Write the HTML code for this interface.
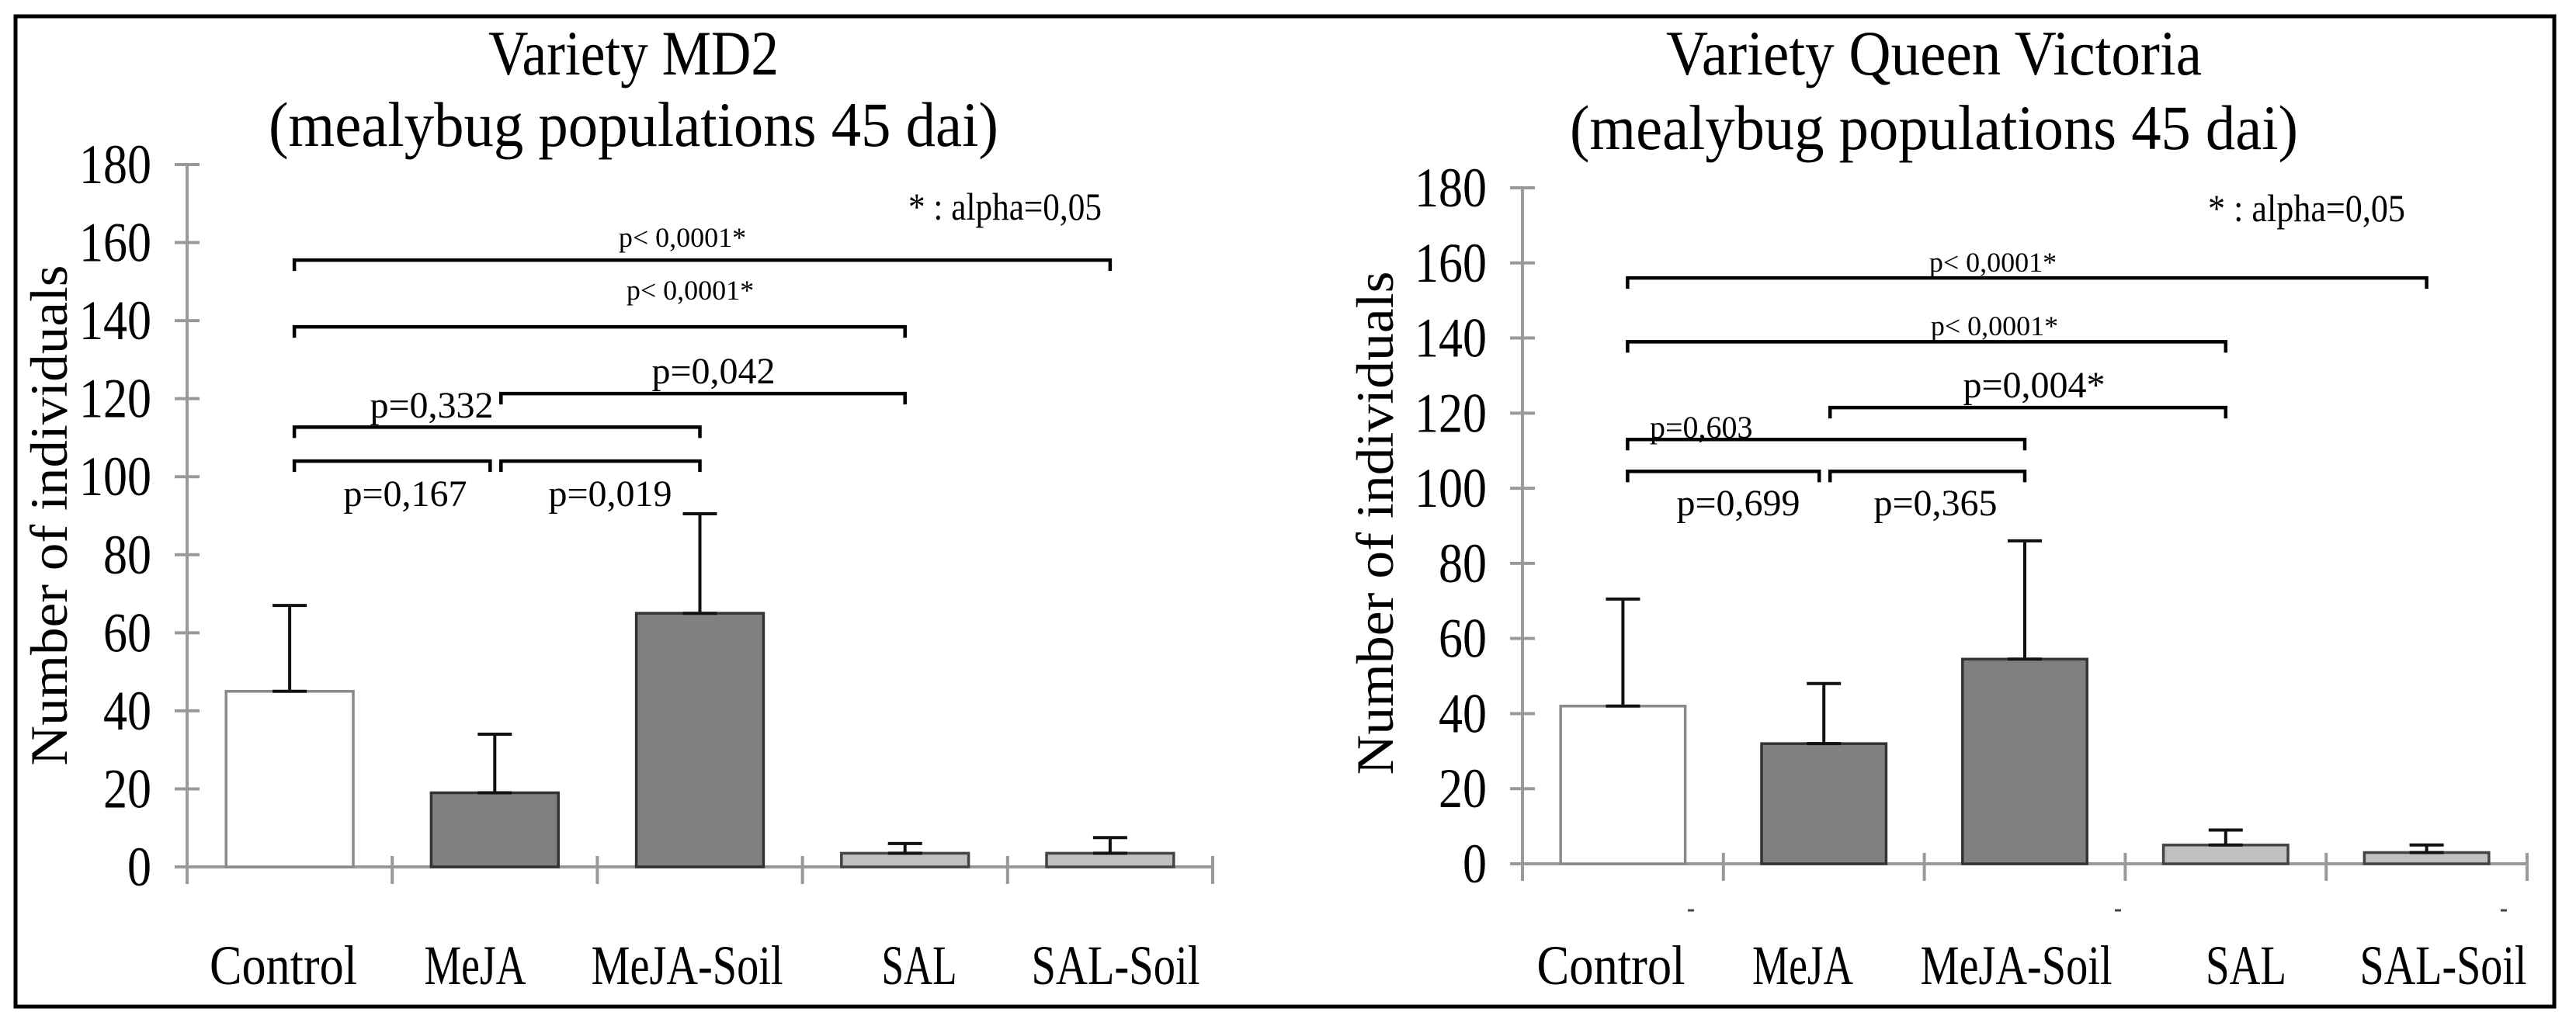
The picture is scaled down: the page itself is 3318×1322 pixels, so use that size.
<!DOCTYPE html>
<html><head><meta charset="utf-8"><style>
html,body{margin:0;padding:0;background:#fff;}
svg{display:block;font-family:"Liberation Serif",serif;}
</style></head><body>
<svg id="fig" width="3318" height="1322" viewBox="0 0 3318 1322" xmlns="http://www.w3.org/2000/svg">
<rect x="20" y="21" width="3270" height="1276" fill="#fff" stroke="#000" stroke-width="5"/>
</svg>
<script>
const categories = ["Control","MeJA","MeJA-Soil","SAL","SAL-Soil"];
const yTicks = [0,20,40,60,80,100,120,140,160,180];
const md2Means = [45,19,65,3.5,3.5];
const md2ErrTop = [67,34,90.5,6,7.5];
const qvMeans = [42,32,54.5,5,3];
const qvErrTop = [70.5,48,86,9,5];
const md2BracketLevels = [155.5,138.4,121.3,112.7,104,104];
const md2BracketFrom = [0,0,1,0,0,1];
const md2BracketTo = [4,3,3,2,1,2];
const md2BracketLabels = ["p< 0,0001*","p< 0,0001*","p=0,042","p=0,332","p=0,167","p=0,019"];
const qvBracketLevels = [156,139,121.5,113,104.5,104.5];
const qvBracketFrom = [0,0,1,0,0,1];
const qvBracketTo = [4,3,3,2,1,2];
const qvBracketLabels = ["p< 0,0001*","p< 0,0001*","p=0,004*","p=0,603","p=0,699","p=0,365"];
const barFills = ["#ffffff","#808080","#808080","#c0c0c0","#c0c0c0"];
const barStrokes = ["#8a8a8a","#333333","#333333","#444444","#444444"];

const NS="http://www.w3.org/2000/svg";
const svg=document.getElementById('fig');
function mk(tag,attrs,parent,text){const e=document.createElementNS(NS,tag);for(const k in attrs)e.setAttribute(k,attrs[k]);if(text!==undefined)e.textContent=text;(parent||svg).appendChild(e);return e;}

function drawChart(g,c,means,errs,lv,from,to,labels,labelPos){
  const yS=v=>c.y0-(v/180)*(c.y0-c.y180);
  const cw=(c.x1-c.x0)/categories.length;
  const cx=i=>c.x0+cw*(i+0.5);
  let t=mk('text',{x:c.tx,y:c.t1y,'text-anchor':'middle','font-size':82,textLength:c.t1w,lengthAdjust:'spacingAndGlyphs'},g,c.title1);
  
  
  t=mk('text',{x:c.tx,y:c.t2y,'text-anchor':'middle','font-size':82,textLength:c.t2w,lengthAdjust:'spacingAndGlyphs'},g,'(mealybug populations 45 dai)');
  
  
  t=mk('text',{x:0,y:0,transform:`translate(${c.ytx},${c.yty}) rotate(-90)`,'text-anchor':'middle','font-size':68,textLength:c.ytw,lengthAdjust:'spacingAndGlyphs'},g,'Number of individuals');
  
  
  let a=mk('line',{x1:c.x0,y1:yS(180),x2:c.x0,y2:c.y0+20,stroke:'#999','stroke-width':4},g);
  
  
  yTicks.forEach(v=>{
    const tk=mk('line',{x1:c.x0-16,y1:yS(v),x2:c.x0+16,y2:yS(v),stroke:'#999','stroke-width':4},g);
    
    
    const s=String(v);
    const tl=mk('text',{x:c.x0-46,y:yS(v)+24,'text-anchor':'end','font-size':72,textLength:s.length*31,lengthAdjust:'spacingAndGlyphs'},g,s);
    
    
  });
  a=mk('line',{x1:c.x0-16,y1:c.y0,x2:c.x1,y2:c.y0,stroke:'#999','stroke-width':4},g);
  
  
  for(let i=0;i<=categories.length;i++){
    const tk=mk('line',{x1:c.x0+cw*i,y1:c.y0-14,x2:c.x0+cw*i,y2:c.y0+22,stroke:'#999','stroke-width':4},g);
    
    
  }
  const bw=cw*0.62;
  categories.forEach((cat,i)=>{
    const y=yS(means[i]);
    const b=mk('rect',{x:cx(i)-bw/2,y:y,width:bw,height:c.y0-y,fill:barFills[i],stroke:barStrokes[i],'stroke-width':3.5},g);
    
    
    const ey=yS(errs[i]);
    const e=mk('path',{d:`M${cx(i)-22},${y}H${cx(i)+22}M${cx(i)},${y}V${ey}M${cx(i)-22},${ey}H${cx(i)+22}`,stroke:'#111','stroke-width':4,fill:'none'},g);
    
    
    const xl=mk('text',{x:c.xlc[i],y:c.xly,'text-anchor':'middle','font-size':72,textLength:c.xlw[i],lengthAdjust:'spacingAndGlyphs'},g,cat);
    
    
  });
  if(c.dashes){c.dashes.forEach(dx=>{const d=mk('line',{x1:dx-4,y1:c.y0+60,x2:dx+4,y2:c.y0+60,stroke:'#444','stroke-width':3},g);});}
  lv.forEach((v,k)=>{
    const y=yS(v);
    const xs=from[k]>0?cx(from[k])+8:cx(from[k])+6;
    const xe=(k==4)?cx(to[k])-6:cx(to[k]);
    const br=mk('path',{d:`M${xs},${y+14}V${y}H${xe}V${y+14}`,stroke:'#000','stroke-width':4.5,fill:'none'},g);
    
    
    const lp=labelPos[k];
    const lt=mk('text',{x:lp[0],y:lp[1],'text-anchor':lp[3]||'middle','font-size':lp[2]},g,labels[k]);
    
    
  });
  const al=mk('text',{x:c.alx,y:c.aly,'font-size':50,textLength:c.alw,lengthAdjust:'spacingAndGlyphs'},g,'* : alpha=0,05');
  
  
}

const g1=mk('g',{});


drawChart(g1,{x0:241,x1:1562,y0:1117,y180:212,title1:'Variety MD2',tx:816,t1y:96,t1w:374,t2y:188,t2w:940,ytx:86,yty:664,ytw:645,xly:1268,
  xlc:[365,612,885,1184,1437],xlw:[190,131,247,97,217],alx:1170,aly:283,alw:249},
  md2Means,md2ErrTop,md2BracketLevels,md2BracketFrom,md2BracketTo,md2BracketLabels,
  [[879,318,36],[889,386,36],[919,494,48],[556,538,48],[522,652,48],[786,652,48]]);

const g2=mk('g',{});


drawChart(g2,{x0:1961,x1:3255,y0:1113,y180:242,title1:'Variety Queen Victoria',tx:2491,t1y:96,t1w:690,t2y:192,t2w:938,ytx:1794,yty:674,ytw:649,xly:1268,
  xlc:[2075,2322,2597,2893,3147],xlw:[191,130,247,104,215],alx:2844,aly:285,alw:254,dashes:[2178,2728,3225]},
  qvMeans,qvErrTop,qvBracketLevels,qvBracketFrom,qvBracketTo,qvBracketLabels,
  [[2567,350,36],[2569,432,36],[2620,512,48],[2125,564,40,'start'],[2239,664,48],[2493,664,48]]);
</script>
</body></html>
